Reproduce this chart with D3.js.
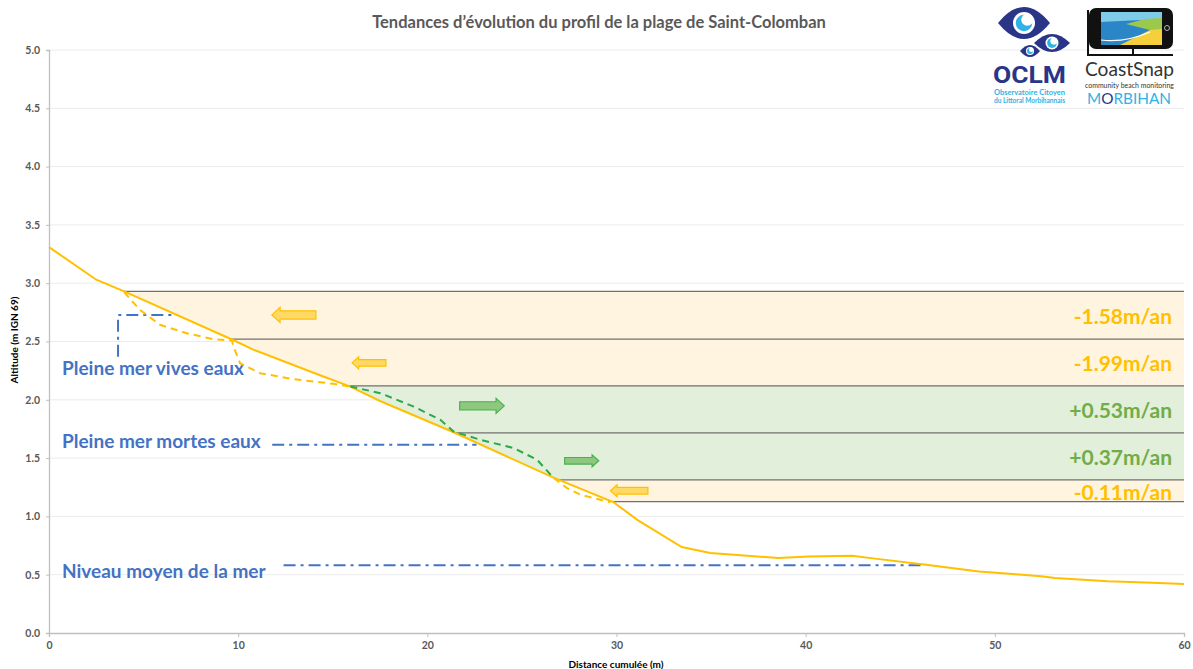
<!DOCTYPE html>
<html>
<head>
<meta charset="utf-8">
<script src="https://cdn.jsdelivr.net/npm/d3@7"></script>
<style>
  body { margin: 0; background: #fff; }
  svg { display: block; font-family: Lato, 'Open Sans', sans-serif; }
</style>
</head>
<body>
<div id="chart"></div>
<script>
// current beach profile (distance m, altitude m IGN 69)
const profile = [
  [0, 3.31], [2.5, 3.03], [3.97, 2.93], [9.7, 2.515], [10.8, 2.43], [14.5, 2.2],
  [15.9, 2.115], [17.5, 1.99], [21.3, 1.728], [26.7, 1.33], [29.86, 1.12], [31.1, 0.97],
  [31.66, 0.914], [33.45, 0.737], [34.96, 0.686], [38.56, 0.643], [40.16, 0.657],
  [42.46, 0.663], [43.56, 0.64], [46.37, 0.585], [49.16, 0.528], [50.77, 0.508],
  [52.57, 0.485], [53.17, 0.471], [55.97, 0.443], [57.97, 0.434], [60, 0.42]
];

// trend profiles (dashed)
const erosionUpper = [
  [3.97, 2.923], [4.81, 2.771], [5.87, 2.643], [7.28, 2.571], [8.69, 2.52], [9.67, 2.508],
  [9.75, 2.457], [10.1, 2.314], [11.16, 2.228], [12.93, 2.177], [15.04, 2.137], [15.93, 2.114]
];
const accretion = [
  [15.93, 2.114], [17.51, 2.057], [19.28, 1.942], [20.69, 1.828], [21.39, 1.728],
  [22.8, 1.657], [24.57, 1.586], [25.8, 1.486], [26.68, 1.329]
];
const erosionLower = [
  [26.68, 1.329], [27.39, 1.243], [28.1, 1.185], [29.15, 1.143], [29.68, 1.12]
];

// altitude bands and their trends
const bandLevels = [2.93, 2.52, 2.12, 1.717, 1.314, 1.126];
const bandRates = ['-1.58m/an', '-1.99m/an', '+0.53m/an', '+0.37m/an', '-0.11m/an'];
const bandTrend = ['erosion', 'erosion', 'accretion', 'accretion', 'erosion'];
const arrowFrom = [11.78, 16.02, 21.71, 27.26, 29.68];
const arrowTo = [14.11, 17.81, 24.07, 29.06, 31.66];
const arrowAlt = [2.728, 2.317, 1.948, 1.477, 1.22];

// tide reference levels
const tideNames = ['Pleine mer vives eaux', 'Pleine mer mortes eaux', 'Niveau moyen de la mer'];
const tideLabelAlt = [2.26, 1.64, 0.52];
const tideLines = [
  [[3.65, 2.37], [3.65, 2.728], [6.76, 2.728]],
  [[11.8, 1.614], [22.6, 1.614]],
  [[12.4, 0.58], [46.2, 0.58]]
];

const xTicks = [0, 10, 20, 30, 40, 50, 60];
const yTicks = [0, 0.5, 1, 1.5, 2, 2.5, 3, 3.5, 4, 4.5, 5];

const W = 1193, H = 669;
const margin = { top: 50, left: 49, right: 9, bottom: 36 };
const width = W - margin.left - margin.right;
const height = H - margin.top - margin.bottom;

const orange = '#FFC000';
const green = '#70AD47';
const blue = '#4472C4';

const svg = d3.select('#chart')
  .append('svg')
  .attr('width', W)
  .attr('height', H);

const xScale = d3.scaleLinear().domain([0, 60]).range([0, width]);
const yScale = d3.scaleLinear().domain([0, 5]).range([height, 0]);

// title
svg.append('text')
  .attr('x', 599)
  .attr('y', 28)
  .attr('text-anchor', 'middle')
  .style('font-size', '16.5px')
  .style('font-weight', 'bold')
  .style('fill', '#595959')
  .text('Tendances d\u2019évolution du profil de la plage de Saint-Colomban');

const g = svg.append('g')
  .attr('transform', `translate(${margin.left},${margin.top})`);

// gridlines
g.append('g')
  .selectAll('line')
  .data(yTicks.slice(1))
  .enter()
  .append('line')
  .attr('x1', 0)
  .attr('x2', width)
  .attr('y1', d => yScale(d))
  .attr('y2', d => yScale(d))
  .attr('stroke', '#ececec')
  .attr('stroke-width', 1);

// clip: everything seaward of the current profile
const above = d3.area()
  .x(d => xScale(d[0]))
  .y0(0)
  .y1(d => yScale(d[1]));

g.append('clipPath')
  .attr('id', 'seaward')
  .append('path')
  .attr('d', above(profile));

const bands = g.append('g').attr('clip-path', 'url(#seaward)');

bands.selectAll('rect')
  .data(bandRates)
  .enter()
  .append('rect')
  .attr('x', 0)
  .attr('width', width)
  .attr('y', (d, i) => yScale(bandLevels[i]))
  .attr('height', (d, i) => yScale(bandLevels[i + 1]) - yScale(bandLevels[i]))
  .attr('fill', (d, i) => bandTrend[i] === 'erosion' ? '#FFF4E0' : '#E2EFDA');

bands.selectAll('line')
  .data(bandLevels)
  .enter()
  .append('line')
  .attr('x1', 0)
  .attr('x2', width)
  .attr('y1', d => yScale(d))
  .attr('y2', d => yScale(d))
  .attr('stroke', '#707070')
  .attr('stroke-width', 1.3);

// arrows showing direction of change
function arrowPath(a, b, cy, h, left) {
  const bh = h * 0.55, hl = h * 0.55;
  const tip = left ? a : b, tail = left ? b : a, s = left ? 1 : -1;
  return [
    [tip, cy], [tip + s * hl, cy - h / 2], [tip + s * hl, cy - bh / 2], [tail, cy - bh / 2],
    [tail, cy + bh / 2], [tip + s * hl, cy + bh / 2], [tip + s * hl, cy + h / 2]
  ].map(p => p.join(',')).join(' ');
}

g.append('g')
  .selectAll('polygon')
  .data(bandTrend)
  .enter()
  .append('polygon')
  .attr('points', (d, i) => {
    const h = arrowTo[i] - arrowFrom[i] > 2 ? 15 : 12;
    return arrowPath(xScale(arrowFrom[i]), xScale(arrowTo[i]), yScale(arrowAlt[i]), h, d === 'erosion');
  })
  .attr('fill', d => d === 'erosion' ? '#FFD966' : '#8CC97E')
  .attr('stroke', d => d === 'erosion' ? orange : '#4CAF50')
  .attr('stroke-width', 1.2);

// rates
g.append('g')
  .selectAll('text')
  .data(bandRates)
  .enter()
  .append('text')
  .attr('x', width - 12)
  .attr('y', (d, i) => (yScale(bandLevels[i]) + yScale(bandLevels[i + 1])) / 2 + 9)
  .attr('text-anchor', 'end')
  .style('font-size', '21px')
  .style('font-weight', 'bold')
  .style('fill', (d, i) => bandTrend[i] === 'erosion' ? orange : green)
  .text(d => d);

// tide levels
const line = d3.line()
  .x(d => xScale(d[0]))
  .y(d => yScale(d[1]));

g.append('g')
  .selectAll('path')
  .data(tideLines)
  .enter()
  .append('path')
  .attr('d', line)
  .attr('fill', 'none')
  .attr('stroke', blue)
  .attr('stroke-width', 2)
  .attr('stroke-dasharray', '12,5,3,5');

g.append('g')
  .selectAll('text')
  .data(tideNames)
  .enter()
  .append('text')
  .attr('x', 13)
  .attr('y', (d, i) => yScale(tideLabelAlt[i]) + 6)
  .style('font-size', '19px')
  .style('font-weight', 'bold')
  .style('fill', blue)
  .text(d => d);

// profiles
g.append('path')
  .datum(profile)
  .attr('d', line)
  .attr('fill', 'none')
  .attr('stroke', orange)
  .attr('stroke-width', 2);

[[erosionUpper, orange], [accretion, '#2BA84A'], [erosionLower, orange]].forEach(p => {
  g.append('path')
    .datum(p[0])
    .attr('d', line)
    .attr('fill', 'none')
    .attr('stroke', p[1])
    .attr('stroke-width', 2)
    .attr('stroke-dasharray', '7,5');
});

// axes
const xAxis = d3.axisBottom(xScale).tickValues(xTicks).tickSize(4).tickPadding(5);
const yAxis = d3.axisLeft(yScale).tickValues(yTicks).tickSize(3).tickPadding(6).tickFormat(d3.format('.1f'));

const gx = g.append('g')
  .attr('transform', `translate(0,${height})`)
  .call(xAxis);
const gy = g.append('g').call(yAxis);

[gx, gy].forEach(a => {
  a.select('.domain').attr('stroke', '#bfbfbf').attr('stroke-width', 1.3);
  a.selectAll('.tick line').attr('stroke', '#bfbfbf');
  a.selectAll('.tick text')
    .style('font-family', 'Lato, sans-serif')
    .style('font-size', '10.5px')
    .style('font-weight', 'bold')
    .style('fill', '#595959');
});

svg.append('text')
  .attr('transform', 'translate(18,340) rotate(-90)')
  .attr('text-anchor', 'middle')
  .style('font-size', '10px')
  .style('font-weight', 'bold')
  .style('fill', '#000')
  .text('Altitude  (m IGN 69)');

svg.append('text')
  .attr('x', 616)
  .attr('y', 668)
  .attr('text-anchor', 'middle')
  .style('font-size', '10px')
  .style('font-weight', 'bold')
  .style('fill', '#000')
  .text('Distance cumulée  (m)');

// logos
const navy = '#2A3587', cyan = '#2FB2E5';
const logo = svg.append('g');
[[1024, 23, 26, 16, 11], [1052, 43, 18, 9, 6.5], [1030, 51, 10, 6, 4]].forEach(e => {
  const [cx, cy, rx, ry, r] = e;
  logo.append('path')
    .attr('d', `M${cx - rx},${cy} Q${cx},${cy - 2 * ry} ${cx + rx},${cy} Q${cx},${cy + 2 * ry} ${cx - rx},${cy}Z`)
    .attr('fill', navy);
  logo.append('circle').attr('cx', cx).attr('cy', cy).attr('r', r).attr('fill', '#fff');
  logo.append('circle').attr('cx', cx).attr('cy', cy).attr('r', r * 0.75).attr('fill', cyan);
  logo.append('circle').attr('cx', cx + r * 0.3).attr('cy', cy - r * 0.3).attr('r', r * 0.55).attr('fill', '#fff');
});
logo.append('text')
  .attr('x', 993).attr('y', 83)
  .attr('textLength', 73).attr('lengthAdjust', 'spacingAndGlyphs')
  .style('font-family', 'Roboto, sans-serif')
  .style('font-size', '24px').style('font-weight', 'bold').style('fill', navy)
  .text('OCLM');
logo.append('text')
  .attr('x', 994).attr('y', 95)
  .attr('textLength', 71).attr('lengthAdjust', 'spacingAndGlyphs')
  .style('font-size', '7px').style('font-weight', 'bold').style('fill', cyan)
  .text('Observatoire Citoyen');
logo.append('text')
  .attr('x', 994).attr('y', 103)
  .attr('textLength', 71).attr('lengthAdjust', 'spacingAndGlyphs')
  .style('font-size', '7px').style('font-weight', 'bold').style('fill', cyan)
  .text('du Littoral Morbihannais');

// CoastSnap phone
const cs = svg.append('g');
cs.append('path')
  .attr('d', 'M1088,10 L1088,55 L1173,55 M1133,48 L1133,55')
  .attr('fill', 'none').attr('stroke', '#111').attr('stroke-width', 2);
cs.append('rect')
  .attr('x', 1089).attr('y', 8).attr('width', 84).attr('height', 41).attr('rx', 7)
  .attr('fill', '#111');
cs.append('rect')
  .attr('x', 1101).attr('y', 12).attr('width', 61).attr('height', 33)
  .attr('fill', '#7FCBEA');
cs.append('polygon')
  .attr('points', '1101,22 1140,20 1162,24 1162,45 1101,45')
  .attr('fill', '#2A86C6');
cs.append('polygon')
  .attr('points', '1126,24 1145,19 1162,18 1162,32 1150,30')
  .attr('fill', '#9CC94C');
cs.append('polygon')
  .attr('points', '1120,45 1150,30 1162,29 1162,45')
  .attr('fill', '#F6D03C');
cs.append('path')
  .attr('d', 'M1101,40 Q1125,43 1150,32')
  .attr('fill', 'none').attr('stroke', '#fff').attr('stroke-width', 1.2);
cs.append('circle').attr('cx', 1167).attr('cy', 28).attr('r', 2.5)
  .attr('fill', 'none').attr('stroke', '#ddd').attr('stroke-width', 0.8);
cs.append('text')
  .attr('x', 1085).attr('y', 76)
  .attr('textLength', 89).attr('lengthAdjust', 'spacingAndGlyphs')
  .style('font-size', '20px').style('fill', '#333')
  .text('CoastSnap');
cs.append('text')
  .attr('x', 1085).attr('y', 88)
  .attr('textLength', 89).attr('lengthAdjust', 'spacingAndGlyphs')
  .style('font-size', '7px').style('fill', '#333')
  .text('community beach monitoring');
const mor = cs.append('text')
  .attr('x', 1087).attr('y', 104)
  .attr('textLength', 84).attr('lengthAdjust', 'spacingAndGlyphs')
  .style('font-size', '16px').style('fill', cyan);
mor.append('tspan').text('M');
mor.append('tspan').style('fill', navy).text('O');
mor.append('tspan').text('RBIHAN');
</script>
</body>
</html>
